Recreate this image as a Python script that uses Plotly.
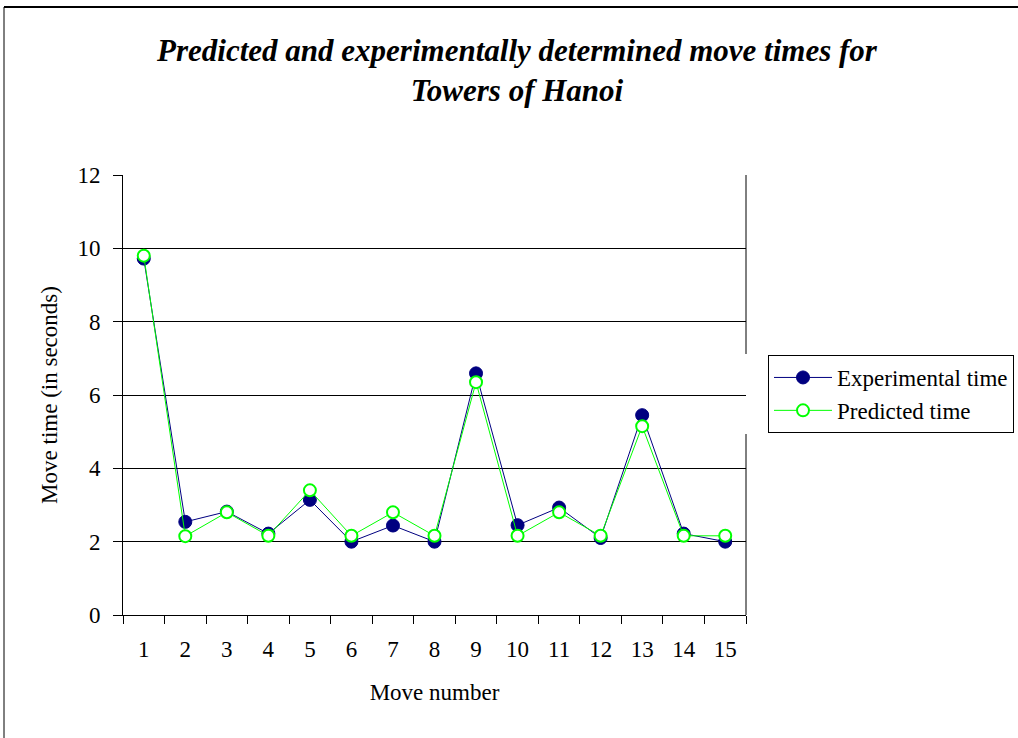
import plotly.graph_objects as go

moves = [str(i) for i in range(1, 16)]
experimental = [9.72, 2.54, 2.82, 2.22, 3.14, 2.0, 2.44, 2.0, 6.59, 2.45, 2.93, 2.1, 5.45, 2.22, 2.0]
predicted = [9.8, 2.15, 2.8, 2.16, 3.4, 2.16, 2.8, 2.16, 6.35, 2.16, 2.8, 2.16, 5.15, 2.16, 2.16]
y_ticks = [0, 2, 4, 6, 8, 10, 12]

FONT = "Liberation Serif, Times New Roman, serif"
FS = 23

W, H = 1018, 738
L, R, T, B = 123, 746, 175, 615

fig = go.Figure()
fig.add_trace(go.Scatter(
    x=moves, y=experimental, mode="lines+markers", name="Experimental time",
    line=dict(color="#000080", width=1),
    marker=dict(symbol="circle", size=13, color="#000080", line=dict(color="#000080", width=1)),
))
fig.add_trace(go.Scatter(
    x=moves, y=predicted, mode="lines+markers", name="Predicted time",
    line=dict(color="#00FF00", width=1),
    marker=dict(symbol="circle", size=12, color="white", line=dict(color="#00FF00", width=2)),
))

fig.update_layout(
    width=W, height=H, autosize=False,
    margin=dict(l=L, r=W - R, t=T, b=H - B, pad=0, autoexpand=False),
    paper_bgcolor="white", plot_bgcolor="white",
    font=dict(family=FONT, size=FS, color="black"),
    title=dict(
        text="<b><i>Predicted and experimentally determined move times for<br>Towers of Hanoi</i></b>",
        x=517 / W, xanchor="center", y=1 - 61 / H, yanchor="top",
        font=dict(family=FONT, size=31, color="black"),
    ),
    showlegend=True,
    legend=dict(
        x=(768 - L) / (R - L), xanchor="left",
        y=(B - 355) / (B - T), yanchor="top",
        bgcolor="white", bordercolor="black", borderwidth=1,
        font=dict(family=FONT, size=FS, color="black"),
        itemwidth=58,
    ),
    xaxis=dict(
        type="category", range=[-0.5, 14.5],
        showline=True, linecolor="black", linewidth=1,
        ticks="outside", tickson="boundaries", ticklen=8, tickcolor="black",
        ticklabelstandoff=13,
        showgrid=False, zeroline=False,
        tickfont=dict(family=FONT, size=FS, color="black"),
        title=dict(text="Move number", font=dict(family=FONT, size=FS, color="black"), standoff=23),
    ),
    yaxis=dict(
        range=[0, 12], tickvals=y_ticks,
        showline=True, linecolor="black", linewidth=1,
        ticks="outside", ticklen=9, tickcolor="black",
        ticklabelstandoff=8,
        showgrid=True, gridcolor="black", gridwidth=1, zeroline=False,
        tickfont=dict(family=FONT, size=FS, color="black"),
        title=dict(text="Move time (in seconds)", font=dict(family=FONT, size=FS, color="black"), standoff=13),
    ),
)

# right plot border (broken by legend region), outer chart border
fig.add_shape(type="line", xref="paper", yref="paper", x0=1, x1=1, y0=1, y1=(B - 354) / (B - T),
              line=dict(color="black", width=1))
fig.add_shape(type="line", xref="paper", yref="paper", x0=1, x1=1, y0=(B - 434) / (B - T), y1=0,
              line=dict(color="black", width=1))
fig.add_shape(type="line", xref="paper", yref="paper",
              x0=(4 - L) / (R - L), x1=(W - L) / (R - L), y0=(B - 7) / (B - T), y1=(B - 7) / (B - T),
              line=dict(color="black", width=2))
fig.add_shape(type="line", xref="paper", yref="paper",
              x0=(4 - L) / (R - L), x1=(4 - L) / (R - L), y0=(B - 7) / (B - T), y1=(B - H) / (B - T),
              line=dict(color="black", width=1))

fig.write_html("out.html", config={"displayModeBar": False},
               post_script="document.body.style.margin='0px';document.body.style.overflow='hidden';")
